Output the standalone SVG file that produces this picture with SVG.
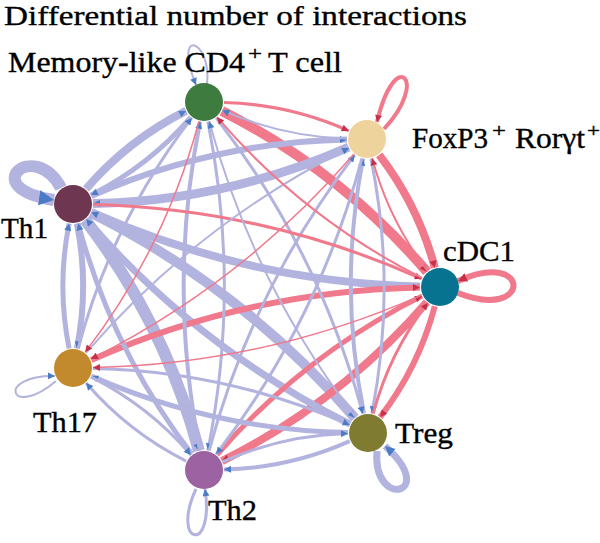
<svg xmlns="http://www.w3.org/2000/svg" width="600" height="543" viewBox="0 0 600 543">
<style>
.b{fill:none;stroke:#B3B3DF;marker-end:url(#ab)}
.r{fill:none;stroke:#F0798C;marker-end:url(#ar)}
</style>
<defs>
<marker id="ab" viewBox="0 0 10 10" refX="10" refY="5" markerWidth="8" markerHeight="7" orient="auto" markerUnits="userSpaceOnUse"><path d="M0,0L10,5L0,10z" fill="#4A7DC6"/></marker>
<marker id="ar" viewBox="0 0 10 10" refX="10" refY="5" markerWidth="8" markerHeight="7" orient="auto" markerUnits="userSpaceOnUse"><path d="M0,0L10,5L0,10z" fill="#C8304A"/></marker>
<marker id="abL" viewBox="0 0 10 10" refX="10" refY="5" markerWidth="15" markerHeight="17" orient="auto" markerUnits="userSpaceOnUse"><path d="M0,0L10,5L0,10z" fill="#4A7DC6"/></marker>
<marker id="abM" viewBox="0 0 10 10" refX="10" refY="5" markerWidth="10" markerHeight="11" orient="auto" markerUnits="userSpaceOnUse"><path d="M0,0L10,5L0,10z" fill="#4A7DC6"/></marker>
<marker id="arM" viewBox="0 0 10 10" refX="10" refY="5" markerWidth="9" markerHeight="9" orient="auto" markerUnits="userSpaceOnUse"><path d="M0,0L10,5L0,10z" fill="#C8304A"/></marker>
</defs>
<rect width="600" height="543" fill="#fff"/>
<g font-family="Liberation Serif, Times New Roman, serif" font-size="28" fill="#000" stroke="#000" stroke-width="0.35">
<text x="4" y="25" textLength="463" lengthAdjust="spacingAndGlyphs">Differential number of interactions</text>
</g>
<g id="connectors">
<path class="b" stroke-width="12" style="marker-end:url(#abL)" d="M61,188C35,138 -25,188 54,200"/>
<path class="b" stroke-width="12" d="M85.2,219.9Q165.1,323.9 198.9,450.7"/>
<path class="r" stroke-width="10" d="M221.9,111Q340.5,170.9 427,271.8"/>
<path class="b" stroke-width="10" d="M90.9,212.9Q243.4,289 354.9,417.9"/>
<path class="b" stroke-width="9" d="M348.7,147.1Q226.5,200.9 93,203.6"/>
<path class="b" stroke-width="8" d="M86.1,188.9Q128.3,139.9 186.1,110.9"/>
<path class="r" stroke-width="8" d="M379.2,154.9Q418.3,205.7 434.8,267.7"/>
<path class="r" stroke-width="8" d="M426.9,302.1Q340.3,402.1 221.9,461.1"/>
<path class="b" stroke-width="8" d="M420,286.5Q248.2,282.2 91.3,212.2"/>
<path class="b" stroke-width="7" d="M350.1,424.1Q197.6,348 86.1,219.1"/>
<path class="r" stroke-width="6" style="marker-end:url(#arM)" d="M458,293C532,322 532,248 458,281"/>
<path class="b" stroke-width="7" style="marker-end:url(#abM)" d="M377,451C372,510 440,495 385,446"/>
<path class="b" stroke-width="6" d="M91.3,195.9Q213.5,142.1 347,139.4"/>
<path class="r" stroke-width="6" d="M434.8,306.3Q418.6,367.2 380.2,417.1"/>
<path class="r" stroke-width="6" d="M91.3,359.9Q248.4,290.8 420,287.4"/>
<path class="b" stroke-width="6" d="M76.9,223.6Q89.4,286 76.9,348.4"/>
<path class="b" stroke-width="5" d="M190.9,117.1Q148.7,166.1 90.9,195.1"/>
<path class="r" stroke-width="5" d="M217.1,454.9Q303.7,354.9 422.1,295.9"/>
<path class="b" stroke-width="5" d="M348,432.6Q214,430 91.3,376.1"/>
<path class="b" stroke-width="5" d="M191.8,454.1Q111.9,350.1 78.1,223.3"/>
<path class="b" stroke-width="5" d="M69.1,348.4Q56.6,286 69.1,223.6"/>
<path class="r" stroke-width="4" d="M384,129C430,80 395,45 377,122"/>
<path class="b" stroke-width="4" d="M200.1,450.4Q167.2,286 200.1,121.6"/>
<path class="b" stroke-width="4" d="M364,413.4Q338.1,286.1 363.1,158.6"/>
<path class="b" stroke-width="4" d="M349.7,441.1Q289.7,467.9 224,469.5"/>
<path class="b" stroke-width="3" d="M196,489C170,545 215,555 205,489"/>
<path class="r" stroke-width="3" d="M224,102.5Q289.2,104.2 348.7,130.8"/>
<path class="b" stroke-width="3" d="M216.2,117.8Q319.1,251.1 362.8,413.7"/>
<path class="b" stroke-width="3" d="M207.9,121.6Q240.8,286 207.9,450.4"/>
<path class="b" stroke-width="3" d="M78.1,348.7Q111.9,221.9 191.8,117.9"/>
<path class="b" stroke-width="3" d="M371,158.6Q396.9,285.9 371.9,413.4"/>
<path class="b" stroke-width="3" d="M361.9,158.3Q318.6,320.8 216.2,454.1"/>
<path class="b" stroke-width="3" d="M209.1,450.7Q252.4,288.2 354.8,154.9"/>
<path class="r" stroke-width="3" d="M373.2,413.7Q389.4,352.8 427.8,302.9"/>
<path class="r" stroke-width="3" d="M93,204.5Q264.8,208.8 421.7,278.8"/>
<path class="b" stroke-width="3" d="M222.3,461.9Q282.3,435.1 348,433.5"/>
<path class="b" stroke-width="3" d="M93,368.4Q227,371 349.7,424.9"/>
<path class="b" stroke-width="3" d="M186.1,461.1Q128.3,432.1 86.1,383.1"/>
<path class="b" stroke-width="3" d="M90.9,376.9Q148.7,405.9 190.9,454.9"/>
<path class="b" stroke-width="2" d="M207,84C212,40 172,25 196,85"/>
<path class="b" stroke-width="2" d="M56,381C10,420 -5,375 55,376"/>
<path class="b" stroke-width="2" d="M347,138.5Q281.8,136.8 222.3,110.2"/>
<path class="b" stroke-width="2" d="M355.8,417.2Q252.9,283.9 209.2,121.3"/>
<path class="r" stroke-width="2" d="M427.8,271.1Q388.7,220.3 372.2,158.3"/>
<path class="b" stroke-width="2" d="M86.1,352.9Q197.1,224.1 349.1,148"/>
<path class="r" stroke-width="2" d="M422.1,278Q303.5,218.1 217,117.2"/>
<path class="r" stroke-width="1.5" d="M198.9,121.3Q165.1,248.1 85.2,352.1"/>
<path class="r" stroke-width="1.5" d="M353.9,154.1Q242.9,282.9 90.9,359"/>
<path class="r" stroke-width="1.5" d="M421.7,295.1Q264.6,364.2 93,367.6"/>
</g>
<g font-family="Liberation Serif, Times New Roman, serif" font-size="29" fill="#000" stroke="#000" stroke-width="0.35">
<g id="node-memory"><circle cx="204" cy="102" r="19" fill="#3D7B3F" stroke="none"/><text x="8" y="72" textLength="237" lengthAdjust="spacingAndGlyphs">Memory-like CD4</text><text x="248" y="60" font-size="19" textLength="14" lengthAdjust="spacingAndGlyphs">+</text><text x="268" y="72" textLength="74" lengthAdjust="spacingAndGlyphs">T cell</text></g>
<g id="node-foxp3"><circle cx="367" cy="139" r="19" fill="#EED39C" stroke="none"/><text x="412" y="148" textLength="76" lengthAdjust="spacingAndGlyphs">FoxP3</text><text x="492" y="137" font-size="19" textLength="14" lengthAdjust="spacingAndGlyphs">+</text><text x="515" y="148" textLength="70" lengthAdjust="spacingAndGlyphs">Rorγt</text><text x="587" y="137" font-size="19" textLength="13" lengthAdjust="spacingAndGlyphs">+</text></g>
<g id="node-cdc1"><circle cx="440" cy="287" r="19" fill="#087391" stroke="none"/><text x="443" y="261" textLength="72" lengthAdjust="spacingAndGlyphs">cDC1</text></g>
<g id="node-treg"><circle cx="368" cy="433" r="19" fill="#7F7B30" stroke="none"/><text x="395" y="443" textLength="58" lengthAdjust="spacingAndGlyphs">Treg</text></g>
<g id="node-th2"><circle cx="204" cy="470" r="19" fill="#9C62A2" stroke="none"/><text x="208" y="520" textLength="49" lengthAdjust="spacingAndGlyphs">Th2</text></g>
<g id="node-th17"><circle cx="73" cy="368" r="19" fill="#C28A2C" stroke="none"/><text x="33" y="432" textLength="64" lengthAdjust="spacingAndGlyphs">Th17</text></g>
<g id="node-th1"><circle cx="73" cy="204" r="19" fill="#6E3650" stroke="none"/><text x="1" y="238" textLength="47" lengthAdjust="spacingAndGlyphs">Th1</text></g>
</g>
</svg>
